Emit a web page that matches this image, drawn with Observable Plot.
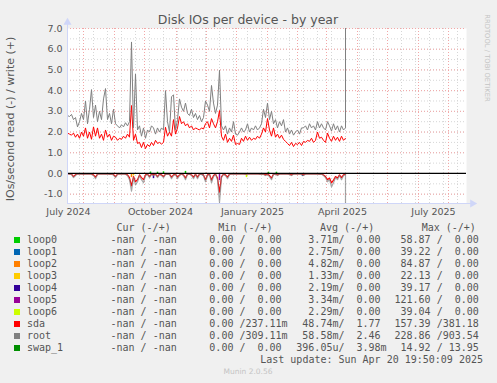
<!DOCTYPE html>
<html><head><meta charset="utf-8">
<script src="https://cdn.jsdelivr.net/npm/d3@7"></script>
<script src="https://cdn.jsdelivr.net/npm/@observablehq/plot@0.6"></script>
<style>
body{margin:0;background:#f0f0f0;}
#wrap{position:relative;width:497px;height:383px;background:#f0f0f0;overflow:hidden;font-family:"DejaVu Sans",sans-serif;color:#555;}
.abs{position:absolute;white-space:pre;}
.mono{font-family:"DejaVu Sans Mono",monospace;font-size:10px;line-height:12px;}
</style></head><body>
<div id="wrap"><div id="chart" class="abs" style="left:0;top:0"></div></div>
<script>
// ---------- data ----------
const sampleStart = "2024-06-30";      // first sample, one sample every 2 days
const rootWrite = [
 2.8,2.75,2.85,2.6,2.7,2.25,2.5,2.9,2.6,3.5,
 2.4,3.1,4.05,2.7,3.3,2.5,3.0,2.6,3.6,4.1,
 2.6,2.9,2.4,3.1,2.4,2.3,2.2,2.35,2.25,2.45,
 2.3,2.5,6.35,2.2,4.8,2.1,2.3,1.8,2.2,1.7,
 2.1,2.0,2.3,2.2,1.9,2.2,2.0,2.2,2.1,4.0,
 2.5,2.0,3.7,3.8,2.1,2.6,3.6,3.2,3.0,3.4,
 2.9,2.8,3.1,2.7,2.9,2.6,2.8,2.5,2.7,3.5,
 3.3,3.0,4.25,3.4,2.9,3.3,4.98,2.3,2.1,2.3,
 1.9,2.2,2.0,2.5,1.9,1.85,2.0,2.2,2.0,2.1,
 2.4,2.0,2.2,2.1,2.3,2.1,2.2,2.4,3.1,2.7,
 3.4,2.6,3.0,2.4,2.6,2.2,2.5,2.3,2.6,2.0,
 2.2,1.9,2.1,1.85,2.0,2.1,1.9,2.2,2.2,2.3,
 2.1,2.4,2.2,2.3,2.1,2.5,2.2,2.4,2.2,2.1,
 2.5,2.3,2.05,2.4,2.1,2.3,2.0,2.3,2.1,2.2];
const sdaWrite = [
 1.95,1.9,1.85,1.95,1.75,1.9,1.7,2.0,1.8,2.2,
 1.7,2.0,1.65,2.25,1.8,2.2,1.7,1.9,1.6,2.1,
 1.75,1.9,1.6,1.8,1.75,1.6,1.7,1.65,1.8,1.7,
 1.9,1.75,3.28,1.6,1.9,1.45,1.5,1.25,1.5,1.2,
 1.4,1.3,1.5,1.35,1.6,1.45,1.5,1.42,1.5,2.23,
 1.8,2.0,1.8,2.6,1.9,2.2,2.75,2.4,2.5,2.3,
 2.4,2.2,2.3,2.1,2.2,2.15,2.1,2.2,2.15,2.4,
 2.5,2.2,2.65,2.4,2.2,2.5,3.04,1.8,1.6,1.9,
 1.5,1.7,1.55,1.85,1.4,1.45,1.4,1.7,1.55,1.8,
 1.6,1.75,1.6,1.7,1.65,1.8,1.7,1.9,2.2,2.0,
 2.65,2.1,1.8,2.2,1.75,1.9,1.7,1.85,1.65,1.55,
 1.45,1.35,1.5,1.3,1.45,1.4,1.5,1.35,1.55,1.5,
 1.6,1.55,1.7,1.5,1.6,2.0,1.7,1.75,1.6,1.5,
 1.95,1.7,1.55,1.8,1.6,1.75,1.55,1.8,1.6,1.7];
const rootRead = [
 -0.02,-0.03,-0.05,-0.2,-0.1,-0.02,-0.03,-0.02,-0.04,-0.02,
 -0.03,-0.02,-0.05,-0.1,-0.25,-0.05,-0.02,-0.03,-0.02,-0.03,
 -0.02,-0.04,-0.03,-0.08,-0.2,-0.05,-0.02,-0.03,-0.02,-0.04,
 -0.1,-0.3,-0.85,-0.2,-0.55,-0.4,-0.1,-0.3,-0.45,-0.1,
 -0.05,-0.2,-0.05,-0.1,-0.05,-0.2,-0.05,-0.1,-0.2,-0.05,
 -0.03,-0.05,-0.25,-0.1,-0.05,-0.25,-0.1,-0.03,-0.1,-0.3,
 -0.05,-0.03,-0.1,-0.25,-0.05,-0.25,-0.05,-0.03,-0.1,-0.4,
 -0.1,-0.05,-0.45,-0.15,-0.05,-0.3,-1.4,-0.2,-0.05,-0.1,
 -0.25,-0.05,-0.03,-0.02,-0.03,-0.02,-0.03,-0.02,-0.03,-0.05,
 -0.03,-0.02,-0.03,-0.02,-0.03,-0.02,-0.04,-0.03,-0.05,-0.1,
 -0.05,-0.15,-0.3,-0.05,-0.03,-0.1,-0.03,-0.02,-0.03,-0.02,
 -0.03,-0.05,-0.1,-0.03,-0.02,-0.03,-0.02,-0.05,-0.1,-0.03,
 -0.02,-0.03,-0.02,-0.03,-0.02,-0.03,-0.05,-0.03,-0.1,-0.2,
 -0.4,-0.3,-0.65,-0.45,-0.2,-0.3,-0.1,-0.3,-0.1,-0.05];
const sdaRead = [
 -0.01,-0.02,-0.03,-0.15,-0.06,-0.01,-0.02,-0.01,-0.03,-0.01,
 -0.02,-0.01,-0.03,-0.07,-0.18,-0.03,-0.01,-0.02,-0.01,-0.02,
 -0.01,-0.03,-0.02,-0.05,-0.15,-0.03,-0.01,-0.02,-0.01,-0.03,
 -0.07,-0.2,-0.6,-0.15,-0.4,-0.3,-0.07,-0.2,-0.3,-0.07,
 -0.03,-0.15,-0.03,-0.07,-0.03,-0.15,-0.03,-0.07,-0.15,-0.03,
 -0.02,-0.03,-0.18,-0.07,-0.03,-0.18,-0.07,-0.02,-0.07,-0.22,
 -0.03,-0.02,-0.07,-0.18,-0.03,-0.18,-0.03,-0.02,-0.07,-0.3,
 -0.07,-0.03,-0.32,-0.1,-0.03,-0.22,-0.9,-0.15,-0.03,-0.07,
 -0.18,-0.03,-0.02,-0.01,-0.02,-0.01,-0.02,-0.01,-0.02,-0.03,
 -0.02,-0.01,-0.02,-0.01,-0.02,-0.01,-0.03,-0.02,-0.03,-0.07,
 -0.03,-0.1,-0.22,-0.03,-0.02,-0.07,-0.02,-0.01,-0.02,-0.01,
 -0.02,-0.03,-0.07,-0.02,-0.01,-0.02,-0.01,-0.03,-0.07,-0.02,
 -0.01,-0.02,-0.01,-0.02,-0.01,-0.02,-0.03,-0.02,-0.07,-0.15,
 -0.3,-0.22,-0.45,-0.32,-0.15,-0.22,-0.07,-0.2,-0.07,-0.03];
// last sample of root: huge values (off-scale)
const rootLastDate = "2025-04-05";
const rootLastWrite = 903.54;
const rootLastRead = -228.86;

// small loop-device blips [date, value]
const loop0Spikes = [["2024-09-21",0.07],["2024-09-28",0.06],["2024-10-04",0.08],["2024-10-26",0.1],["2025-01-17",0.06],["2025-01-25",0.06]];
const loop1Spikes = [["2024-11-12",-0.12],["2025-02-20",-0.15]];
const loop2Spikes = [["2024-09-02",-0.2]];
const loop3Spikes = [["2024-09-04",-0.12]];
const loop4Spikes = [["2024-09-24",-0.25]];
const loop5Spikes = [["2024-11-29",-0.35]];
const loop6Spikes = [["2024-12-26",-0.2],["2025-01-11",-0.1]];

// axes
const xStart = "2024-06-30", xEnd = "2025-08-03";
const yMin = -1.45, yMax = 7.0;
const yTicks = [-1,0,1,2,3,4,5,6,7];
const yMinorTicks = [-1,-0.5,0,0.5,1,1.5,2,2.5,3,3.5,4,4.5,5,5.5,6,6.5,7];
const xLabelTicks = ["2024-07-01","2024-10-01","2025-01-01","2025-04-01","2025-07-01"];
const xMajorGrid = ["2024-07-16","2024-08-16","2024-09-15","2024-10-17","2024-11-16","2024-12-16","2025-01-16","2025-02-15","2025-03-16","2025-04-16","2025-05-16","2025-06-16","2025-07-16"];
const xMinorGridStart = "2024-07-12", xMinorGridCount = 28; // every 2 weeks

// legend
const devices = ["loop0","loop1","loop2","loop3","loop4","loop5","loop6","sda","root","swap_1"];
const devColors = ["#00cc00","#0066b3","#ff8000","#ffcc00","#330099","#990099","#ccff00","#ff0000","#808080","#008f00"];
const curVals = ["-nan / -nan","-nan / -nan","-nan / -nan","-nan / -nan","-nan / -nan","-nan / -nan","-nan / -nan","-nan / -nan","-nan / -nan","-nan / -nan"];
const minVals = ["  0.00 /  0.00","  0.00 /  0.00","  0.00 /  0.00","  0.00 /  0.00","  0.00 /  0.00","  0.00 /  0.00","  0.00 /  0.00","  0.00 /237.11m","  0.00 /309.11m","  0.00 /  0.00"];
const avgVals = ["  3.71m/  0.00","  2.75m/  0.00","  4.82m/  0.00","  1.33m/  0.00","  2.19m/  0.00","  3.34m/  0.00","  2.29m/  0.00"," 48.74m/  1.77"," 58.58m/  2.46","396.05u/  3.98m"];
const maxVals = [" 58.87 /  0.00"," 39.22 /  0.00"," 84.87 /  0.00"," 22.13 /  0.00"," 39.17 /  0.00","121.60 /  0.00"," 39.04 /  0.00","157.39 /381.18","228.86 /903.54"," 14.92 / 13.95"];
const headers = ["Cur (-/+)","Min (-/+)","Avg (-/+)","Max (-/+)"];
const titleText = "Disk IOs per device - by year";
const yLabelText = "IOs/second read (-) / write (+)";
const lastUpdate = "Last update: Sun Apr 20 19:50:09 2025";
const footer = "Munin 2.0.56";
const sideText = "RRDTOOL / TOBI OETIKER";

// ---------- build ----------
const t0 = new Date(sampleStart);
const dates = rootWrite.map((_, i) => d3.utcDay.offset(t0, 2 * i));
const rows = (vals) => vals.map((v, i) => ({date: dates[i], v}));
const rootW = rows(rootWrite).concat([{date: new Date(rootLastDate), v: rootLastWrite}]);
const rootR = rows(rootRead).concat([{date: new Date(rootLastDate), v: rootLastRead}]);
const sdaW = rows(sdaWrite), sdaR = rows(sdaRead);
const spikes = (arr) => arr.map(([d, v]) => ({date: new Date(d), v}));
const loopSets = [loop0Spikes, loop1Spikes, loop2Spikes, loop3Spikes, loop4Spikes, loop5Spikes, loop6Spikes];
const xMinorGrid = d3.range(xMinorGridCount).map(k => d3.utcDay.offset(new Date(xMinorGridStart), 14 * k));
const X0 = new Date(xStart), X1 = new Date(xEnd);

const grid = {strokeDasharray: "1,2", strokeWidth: 1};
const axisColor = "#CFD6F8";

const chart = Plot.plot({
  width: 497, height: 222,
  marginLeft: 67, marginRight: 31, marginTop: 28, marginBottom: 19,
  style: {background: "transparent", fontFamily: "DejaVu Sans", fontSize: "9.5px", color: "#555", overflow: "visible"},
  x: {type: "utc", domain: [X0, X1], label: null},
  y: {domain: [yMin, yMax], label: null},
  marks: [
    Plot.frame({fill: "white", stroke: "none"}),
    Plot.ruleY(yMinorTicks, {...grid, stroke: "#d6d6d6"}),
    Plot.ruleX(xMinorGrid, {...grid, stroke: "#d6d6d6"}),
    Plot.ruleY(yTicks, {...grid, stroke: "#f2a6a6"}),
    Plot.ruleX(xMajorGrid.map(d => new Date(d)), {...grid, stroke: "#f2a6a6"}),
    ...loopSets.map((s, k) => Plot.ruleX(spikes(s), {x: "date", y1: 0, y2: "v", stroke: devColors[k], strokeWidth: 1.5})),
    Plot.line(sdaW, {x: "date", y: "v", stroke: devColors[7], strokeWidth: 1, clip: true}),
    Plot.line(sdaR, {x: "date", y: "v", stroke: devColors[7], strokeWidth: 1.2, clip: true}),
    Plot.line(rootW, {x: "date", y: "v", stroke: devColors[8], strokeWidth: 1, clip: true}),
    Plot.line(rootR, {x: "date", y: "v", stroke: devColors[8], strokeWidth: 1.2, strokeOpacity: 0.7, clip: true}),
    Plot.ruleY([0], {stroke: "black", strokeWidth: 1.2}),
    Plot.ruleX([X0], {stroke: axisColor, insetTop: -5}),
    Plot.ruleY([yMin], {stroke: axisColor, insetRight: -5}),
    Plot.dot([X0], {x: d => d, y: () => yMax, symbol: "triangle", r: 3, fill: axisColor, stroke: "none", dy: -6}),
    Plot.dot([X1], {x: d => d, y: () => yMin, symbol: "triangle", r: 3, fill: axisColor, stroke: "none", dx: 6, rotate: 90}),
    Plot.axisY({ticks: yTicks, tickFormat: d => d.toFixed(1), tickSize: 0, tickPadding: 5, label: null}),
    Plot.axisX({ticks: xLabelTicks.map(d => new Date(d)), tickFormat: d3.utcFormat("%B %Y"), tickSize: 0, tickPadding: 5, label: null})
  ]
});
document.getElementById("chart").appendChild(chart);

const wrap = document.getElementById("wrap");
function add(text, css, cls) {
  const el = document.createElement("div");
  el.className = "abs" + (cls ? " " + cls : "");
  el.textContent = text;
  el.style.cssText += css;
  wrap.appendChild(el);
  return el;
}
add(titleText, "left:248px;top:20px;transform:translate(-50%,-50%);font-size:12.5px;line-height:1;color:#555;");
add(yLabelText, "left:10px;top:119px;transform:translate(-50%,-50%) rotate(-90deg);font-size:11px;line-height:1;color:#555;");
add(sideText, "left:487px;top:58px;transform:translate(-50%,-50%) rotate(90deg);font-size:6.8px;line-height:1;color:#c4c4c4;");

const headerX = [116.5, 218.3, 320, 421.7];
headers.forEach((h, k) => add(h, `left:${headerX[k]}px;top:${228 - 6}px;`, "mono"));
const colX = [110.5, 197.3, 296.3, 394.5];
devices.forEach((name, i) => {
  const cy = 240 + 11.97 * i;
  const sw = document.createElement("div");
  sw.className = "abs";
  sw.style.cssText = `left:14px;top:${cy - 3}px;width:6px;height:6px;background:${devColors[i]};`;
  wrap.appendChild(sw);
  add(name, `left:27px;top:${cy - 6}px;`, "mono");
  [curVals[i], minVals[i], avgVals[i], maxVals[i]].forEach((t, k) => add(t, `left:${colX[k]}px;top:${cy - 6}px;`, "mono"));
});
add(lastUpdate, `right:14px;top:${360 - 6}px;`, "mono");
add(footer, "left:248px;top:372px;transform:translate(-50%,-50%);font-size:7.5px;line-height:1;color:#c4c4c4;");
</script>
</body></html>
